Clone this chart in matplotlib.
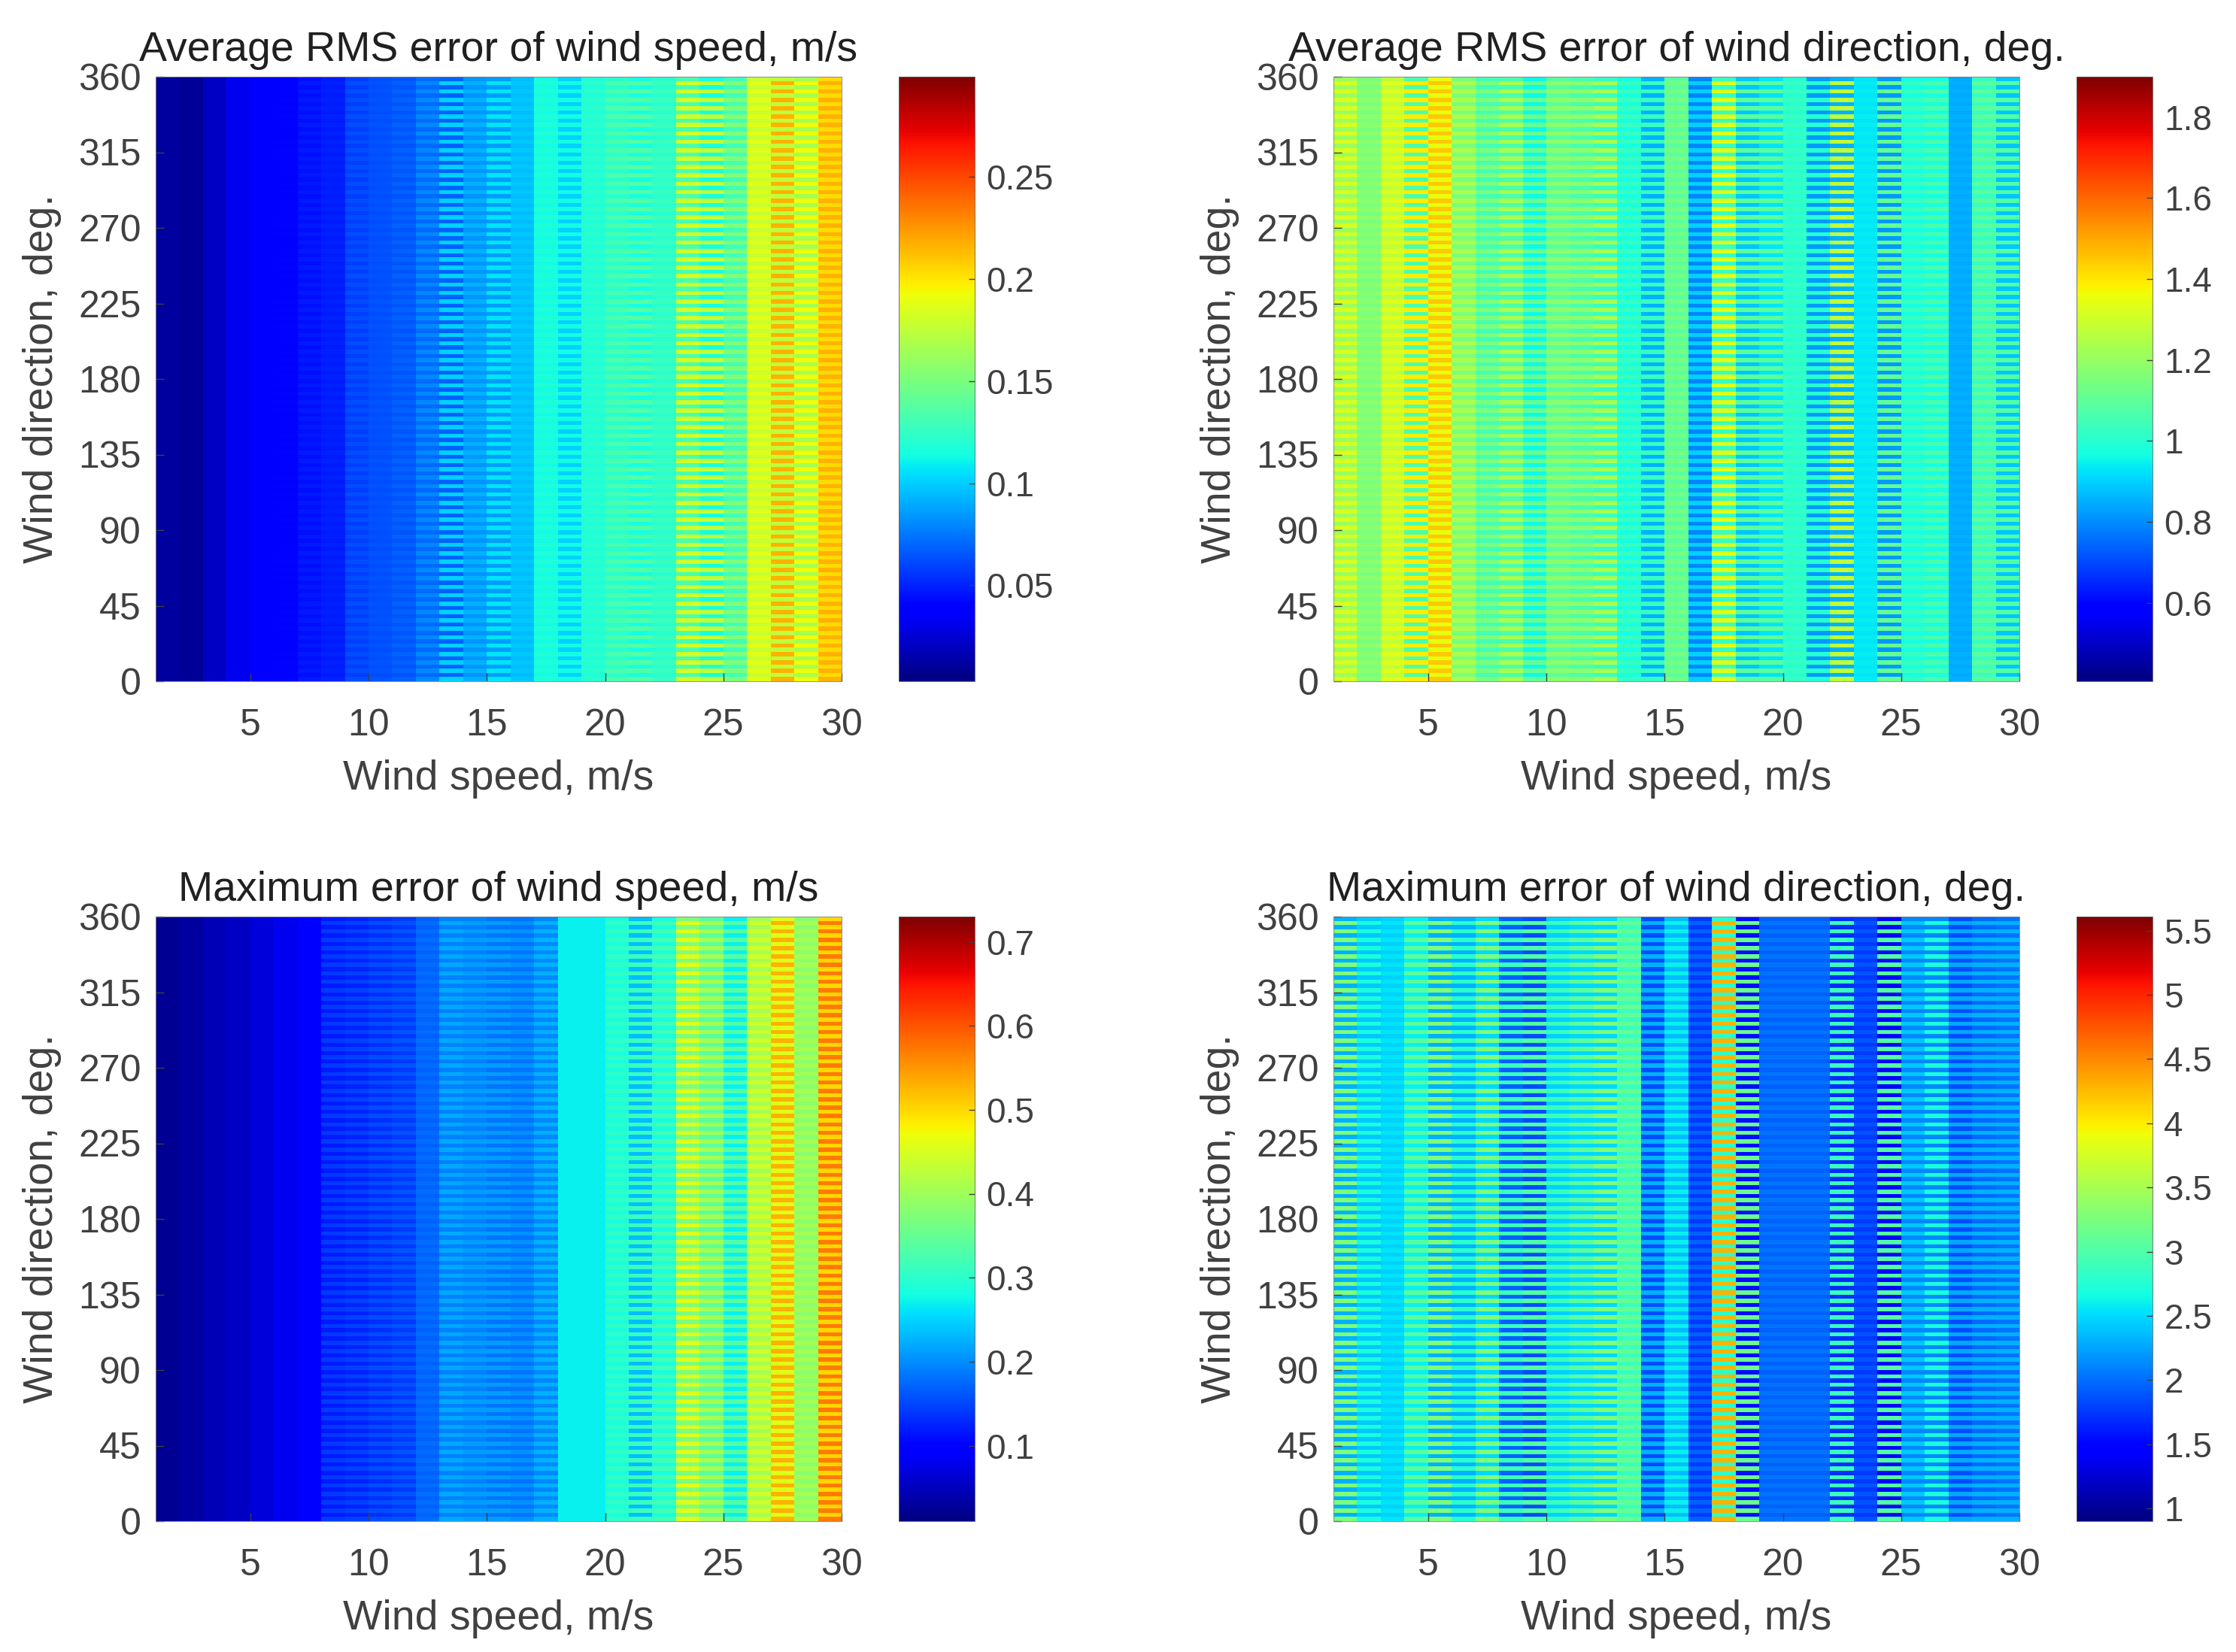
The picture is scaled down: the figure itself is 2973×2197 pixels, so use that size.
#wind error maps, four panels with colorbars
import numpy as np
import matplotlib
matplotlib.use("Agg")
import matplotlib.pyplot as plt

plt.rcParams['font.family'] = ['Liberation Sans', 'DejaVu Sans']

speed_edges = np.arange(1, 31)
dir_edges = np.arange(0, 362.5, 2.5)

#each column has two levels, rows alternate between them
rms_speed_hi = [.012,.009,.021,.033,.037,.040,.047,.050,.062,.065,.068,.080,.101,.092,.107,.098,.118,.113,.121,.133,.136,.127,.181,.175,.151,.187,.216,.192,.216]
rms_speed_lo = [.012,.009,.021,.033,.036,.038,.044,.048,.058,.062,.065,.071,.068,.083,.086,.095,.113,.101,.118,.121,.115,.121,.133,.115,.130,.178,.175,.166,.204]
rms_dir_hi = [1.32,1.18,1.33,1.39,1.45,1.24,1.15,1.23,1.11,1.18,1.18,1.23,1.03,1.03,1.14,.90,1.33,1.09,1.09,1.03,1.00,1.27,.94,1.11,1.03,1.06,.85,1.09,1.08]
rms_dir_lo = [1.21,1.15,1.27,1.06,1.35,1.15,1.05,1.06,.96,1.09,1.06,1.03,.97,.85,1.09,.79,1.03,.88,.93,1.00,.82,.85,.93,.82,.97,.97,.84,1.03,.88]
max_speed_hi = [.024,.032,.046,.053,.068,.082,.096,.140,.147,.154,.161,.176,.219,.212,.212,.204,.226,.269,.269,.305,.312,.320,.456,.406,.334,.442,.528,.406,.572]
max_speed_lo = [.024,.032,.046,.053,.068,.082,.096,.118,.125,.132,.140,.168,.190,.190,.183,.183,.197,.269,.269,.284,.233,.284,.370,.341,.269,.406,.456,.384,.500]
max_dir_hi = [3.26,2.69,2.55,3.07,3.26,2.78,3.26,2.88,3.02,2.88,3.07,3.26,3.11,2.31,2.60,1.94,4.29,3.16,2.03,2.03,2.03,2.88,1.89,3.02,2.41,2.69,2.27,2.31,2.31]
max_dir_lo = [2.31,2.41,2.45,2.60,2.31,2.31,2.50,1.94,1.84,2.45,2.50,2.50,2.88,1.84,2.36,1.75,2.78,1.56,1.94,1.94,1.94,1.70,1.75,1.51,2.12,2.12,1.84,1.98,2.03]

titles = ["Average RMS error of wind speed, m/s", "Average RMS error of wind direction, deg.",
          "Maximum error of wind speed, m/s", "Maximum error of wind direction, deg."]
clims = [(.003, .299), (.406, 1.9), (.01, .73), (.9, 5.61)]
cbar_ticks = [[.05, .1, .15, .2, .25],
              [.6, .8, 1, 1.2, 1.4, 1.6, 1.8],
              [.1, .2, .3, .4, .5, .6, .7],
              [1, 1.5, 2, 2.5, 3, 3.5, 4, 4.5, 5, 5.5]]
cbar_labels = [['0.05', '0.1', '0.15', '0.2', '0.25'],
               ['0.6', '0.8', '1', '1.2', '1.4', '1.6', '1.8'],
               ['0.1', '0.2', '0.3', '0.4', '0.5', '0.6', '0.7'],
               ['1', '1.5', '2', '2.5', '3', '3.5', '4', '4.5', '5', '5.5']]
highs = [rms_speed_hi, rms_dir_hi, max_speed_hi, max_dir_hi]
lows = [rms_speed_lo, rms_dir_lo, max_speed_lo, max_dir_lo]

W, H = 2973, 2197
fig = plt.figure(figsize=(W/100, H/100), dpi=100)

#pixel boxes
lefts = [207, 1773, 207, 1773]
tops = [102, 102, 1219, 1219]
ax_w, ax_h = 912, 804
cb_gap, cb_w = 76, 101
FS = 36
LABEL_FS = 40

def box(x, y, w, h):
    return [x/W, 1-(y+h)/H, w/W, h/H]

for i in range(4):
    ax = fig.add_axes(box(lefts[i], tops[i], ax_w, ax_h))
    z = np.empty((len(dir_edges)-1, len(speed_edges)-1))
    z[0::2] = highs[i]
    z[1::2] = lows[i]
    mesh = ax.pcolormesh(speed_edges, dir_edges, z, cmap='jet', vmin=clims[i][0], vmax=clims[i][1],
                         shading='flat', rasterized=True)
    ax.set_xlim(1, 30)
    ax.set_ylim(0, 360)
    ax.set_xticks([5, 10, 15, 20, 25, 30])
    ax.set_yticks(np.arange(0, 361, 45))
    ax.tick_params(direction='in', length=8, width=1, colors='#404040', labelsize=FS)
    ax.tick_params(axis='x', pad=26)
    ax.tick_params(axis='y', pad=14)
    ax.set_xlabel("Wind speed, m/s", fontsize=LABEL_FS, color='#404040', labelpad=16)
    ax.set_ylabel("Wind direction, deg.", fontsize=LABEL_FS, color='#404040', labelpad=16)
    ax.set_title(titles[i], fontsize=LABEL_FS, color='#202020', pad=15)
    for s in ax.spines.values():
        s.set_linewidth(0.6)
        s.set_color('#808080')

    cax = fig.add_axes(box(lefts[i]+ax_w+cb_gap, tops[i], cb_w, ax_h))
    cb = fig.colorbar(mesh, cax=cax)
    cb.set_ticks(cbar_ticks[i])
    cb.set_ticklabels(cbar_labels[i])
    cax.tick_params(direction='in', length=6, width=1, colors='#404040', labelsize=FS-3, pad=11)
    cb.outline.set_linewidth(0.6)
    cb.outline.set_edgecolor('#606060')

plt.savefig("out.png", dpi=100)
